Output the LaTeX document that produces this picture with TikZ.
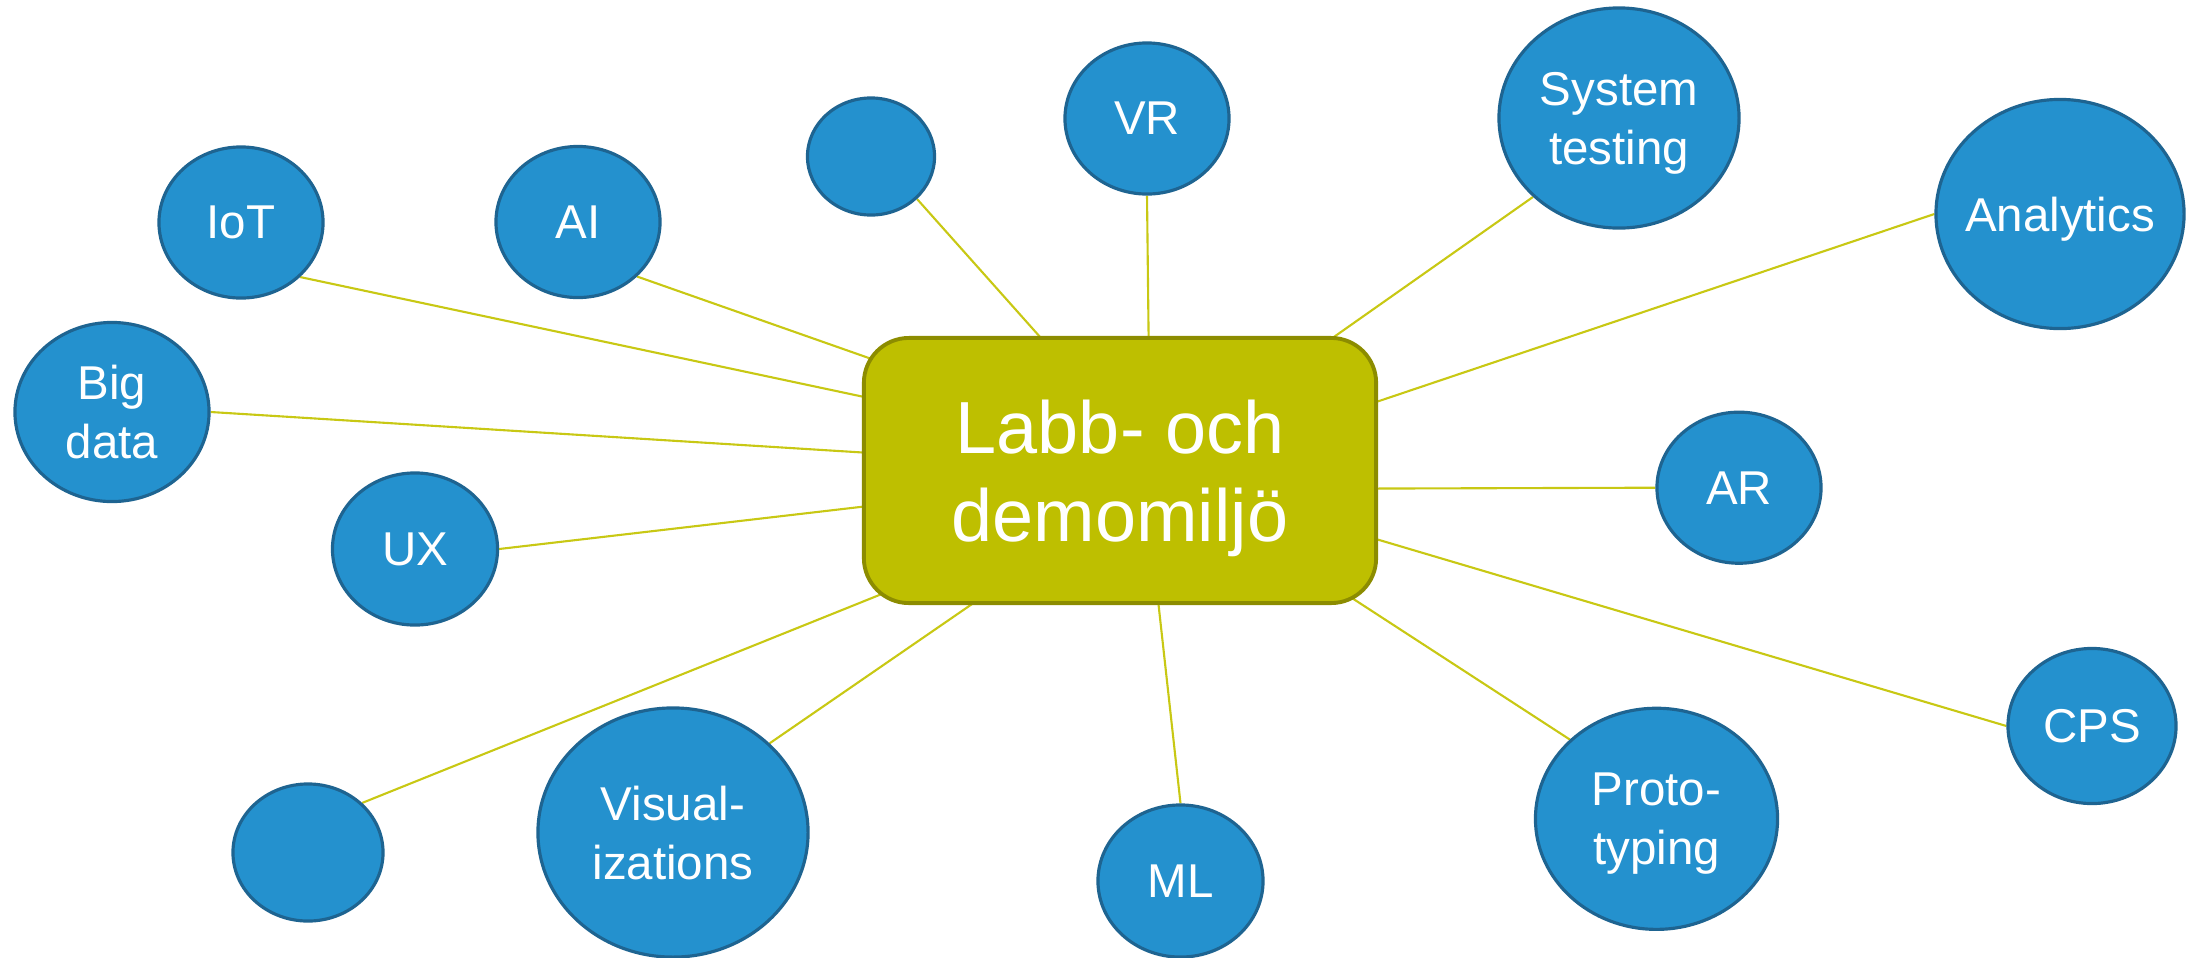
\documentclass[tikz,border=0pt]{standalone}
\usepackage{fontspec}
\setmainfont{Liberation Sans}
\usetikzlibrary{shapes.geometric,backgrounds}

\definecolor{bubblefill}{RGB}{36,145,206}
\definecolor{bubbleline}{RGB}{30,100,145}
\definecolor{hubfill}{RGB}{190,191,0}
\definecolor{hubline}{RGB}{140,140,0}
\definecolor{linkcol}{RGB}{200,200,20}

\tikzset{
  bubble/.style={ellipse, draw=bubbleline, fill=bubblefill, line width=0.9pt,
    inner sep=-4mm, text=white, align=center, text depth=0pt,
    font=\fontsize{13.5}{16.8}\selectfont},
  hub/.style={rectangle, rounded corners=0.45cm, draw=hubline, fill=hubfill,
    line width=1.1pt, minimum width=5.12cm, minimum height=2.65cm,
    text=white, align=center, text depth=0pt, font=\fontsize{21}{25}\selectfont},
  link/.style={draw=linkcol, line width=0.6pt, shorten >=-4mm}
}

\begin{document}
\begin{tikzpicture}[x=0.01cm, y=-0.01cm]
      \useasboundingbox (0,0) rectangle (2191,957);

      \node[hub] (0) at (1120,470.5) {Labb- och\\demomiljö};

      \node[bubble, minimum width=1.64cm, minimum height=1.51cm] (1) at (241,222.5) {IoT};
      \node[bubble, minimum width=1.64cm, minimum height=1.51cm] (2) at (578,222) {AI};
      \node[bubble, minimum width=1.27cm, minimum height=1.17cm] (3) at (871,156.5) {};
      \node[bubble, minimum width=1.64cm, minimum height=1.51cm] (4) at (1147,118.5) {VR};
      \node[bubble, minimum width=2.40cm, minimum height=2.20cm] (5) at (1619,118) {System\\testing};
      \node[bubble, minimum width=2.48cm, minimum height=2.29cm] (6) at (2060,214) {Analytics};
      \node[bubble, minimum width=1.94cm, minimum height=1.79cm] (7) at (112,412) {Big\\data};
      \node[bubble, minimum width=1.65cm, minimum height=1.52cm] (8) at (415,549) {UX};
      \node[bubble, minimum width=1.64cm, minimum height=1.51cm] (9) at (1739,487.7) {AR};
      \node[bubble, minimum width=1.68cm, minimum height=1.55cm] (10) at (2092,726) {CPS};
      \node[bubble, minimum width=1.50cm, minimum height=1.37cm] (11) at (308,852.5) {};
      \node[bubble, minimum width=2.70cm, minimum height=2.49cm] (12) at (673,832.5) {Visual-\\izations};
      \node[bubble, minimum width=1.65cm, minimum height=1.52cm] (13) at (1180.5,881) {ML};
      \node[bubble, minimum width=2.42cm, minimum height=2.21cm] (14) at (1656.5,818.8) {Proto-\\typing};

      \begin{scope}[on background layer]
        \draw[link] (1.south east) -- (0.164);
        \draw[link] (2.south east) -- (0.156.75);
        \draw[link] (3.south east) -- (0.121);
        \draw[link] (4.south) -- (0.78.48);
        \draw[link] (5.south west) -- (0.32.5);
        \draw[link] (6.west) -- (0.15);
        \draw[link] (7.east) -- (0.176);
        \draw[link] (8.east) -- (0.188);
        \draw[link] (9.west) -- (0.356.4);
        \draw[link] (10.west) -- (0.345.6);
        \draw[link] (11.north east) -- (0.207.1);
        \draw[link] (12.north east) -- (0.222.4);
        \draw[link] (13.north) -- (0.286.7);
        \draw[link] (14.north west) -- (0.331.4);
      \end{scope}
    \end{tikzpicture}
\end{document}
